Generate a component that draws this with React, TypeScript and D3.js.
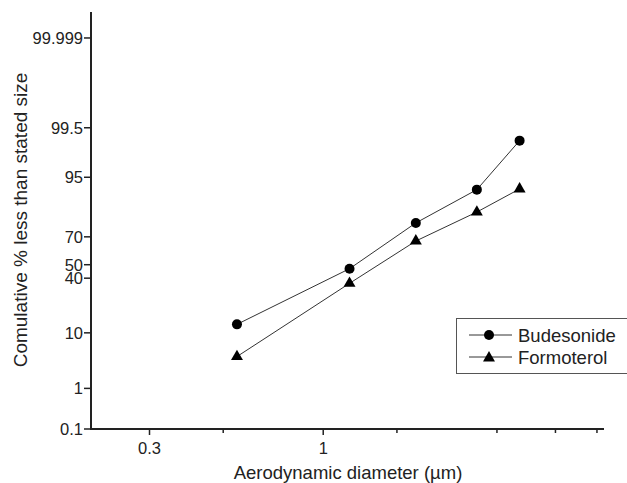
import React from "react";
import * as d3 from "d3";

const diameters = [0.55, 1.2, 1.9, 2.9, 3.9];
const budesonide = [13.1, 47.0, 78.4, 92.1, 99.02];
const formoterol = [4.2, 36.3, 67.2, 83.9, 92.3];
const yTicks = [0.1, 1, 10, 40, 50, 70, 95, 99.5, 99.999];
const xTicks = [0.3, 0.5, 1, 5 / 3, 10 / 3, 5, 20 / 3];
const xLabeled = [0.3, 1];

const W = 627, H = 483;
const left = 91, right = 604, top = 12, bottom = 429;

function inverseNormal(p: number): number {
  // Acklam's algorithm
  const a = [-3.969683028665376e1, 2.209460984245205e2, -2.759285104469687e2, 1.38357751867269e2, -3.066479806614716e1, 2.506628277459239];
  const b = [-5.447609879822406e1, 1.615858368580409e2, -1.556989798598866e2, 6.680131188771972e1, -1.328068155288572e1];
  const c = [-7.784894002430293e-3, -3.223964580411365e-1, -2.400758277161838, -2.549732539343734, 4.374664141464968, 2.938163982698783];
  const d = [7.784695709041462e-3, 3.224671290700398e-1, 2.445134137142996, 3.754408661907416];
  const pl = 0.02425, ph = 1 - pl;
  let q, r;
  if (p < pl) {
    q = Math.sqrt(-2 * Math.log(p));
    return (((((c[0] * q + c[1]) * q + c[2]) * q + c[3]) * q + c[4]) * q + c[5]) / ((((d[0] * q + d[1]) * q + d[2]) * q + d[3]) * q + 1);
  } else if (p <= ph) {
    q = p - 0.5; r = q * q;
    return (((((a[0] * r + a[1]) * r + a[2]) * r + a[3]) * r + a[4]) * r + a[5]) * q / (((((b[0] * r + b[1]) * r + b[2]) * r + b[3]) * r + b[4]) * r + 1);
  } else {
    q = Math.sqrt(-2 * Math.log(1 - p));
    return -(((((c[0] * q + c[1]) * q + c[2]) * q + c[3]) * q + c[4]) * q + c[5]) / ((((d[0] * q + d[1]) * q + d[2]) * q + d[3]) * q + 1);
  }
}
const probit = (pct: number) => inverseNormal(pct / 100);

export default function App() {
  const x = d3.scaleLog().domain([0.2, 7]).range([left, right]);
  const yLin = d3.scaleLinear().domain([probit(0.1), probit(99.9999)]).range([bottom, top]);
  const y = (p: number) => yLin(probit(p));

  const line = d3.line<[number, number]>().x(d => x(d[0])).y(d => y(d[1]));
  const bData = diameters.map((dd, i) => [dd, budesonide[i]] as [number, number]);
  const fData = diameters.map((dd, i) => [dd, formoterol[i]] as [number, number]);
  const tri = d3.symbol().type(d3.symbolTriangle).size(62)() as string;
  const font = "'Liberation Sans', Arial, Helvetica, sans-serif";
  const textColor = "#222";

  return (
    <svg width={W} height={H} style={{ position: "absolute", left: 0, top: 0, background: "#fff" }} fontFamily={font}>
      {/* axes */}
      <line x1={left} y1={top} x2={left} y2={bottom + 1} stroke="#222" strokeWidth={2} />
      <line x1={left - 1} y1={bottom} x2={right} y2={bottom} stroke="#222" strokeWidth={2} />
      {yTicks.map(t => (
        <g key={"y" + t}>
          <line x1={left - 7} x2={left} y1={y(t)} y2={y(t)} stroke="#222" strokeWidth={1.5} />
          <text x={left - 8} y={y(t)} dy="0.36em" textAnchor="end" fontSize={16.5} fill={textColor}>{t}</text>
        </g>
      ))}
      {xTicks.map(t => {
        const major = xLabeled.some(v => Math.abs(v - t) < 1e-9);
        return (
          <g key={"x" + t}>
            <line x1={x(t)} x2={x(t)} y1={bottom} y2={bottom + (major ? 6 : 4)} stroke="#222" strokeWidth={1.5} />
            {major && <text x={x(t)} y={bottom + 25} textAnchor="middle" fontSize={16.5} fill={textColor}>{t}</text>}
          </g>
        );
      })}
      <text x={348} y={479} textAnchor="middle" fontSize={18.5} fill={textColor}>Aerodynamic diameter (µm)</text>
      <text transform={`translate(27,${220}) rotate(-90)`} textAnchor="middle" fontSize={19} fill={textColor}>Comulative % less than stated size</text>

      {/* series */}
      <path d={line(bData) as string} fill="none" stroke="#333" strokeWidth={1} />
      <path d={line(fData) as string} fill="none" stroke="#333" strokeWidth={1} />
      {bData.map((d, i) => <circle key={"b" + i} cx={x(d[0])} cy={y(d[1])} r={5} fill="#000" />)}
      {fData.map((d, i) => <path key={"f" + i} d={tri} transform={`translate(${x(d[0])},${y(d[1])})`} fill="#000" />)}

      {/* legend */}
      <rect x={456.5} y={318.5} width={175} height={55} fill="#fff" stroke="#555" strokeWidth={1} />
      <line x1={469} x2={512} y1={335} y2={335} stroke="#333" />
      <circle cx={489} cy={335} r={5} fill="#000" />
      <text x={518} y={335} dy="0.36em" fontSize={18.5} fill={textColor}>Budesonide</text>
      <line x1={469} x2={512} y1={357} y2={357} stroke="#333" />
      <path d={tri} transform={`translate(489,358)`} fill="#000" />
      <text x={518} y={357} dy="0.36em" fontSize={18.5} fill={textColor}>Formoterol</text>
    </svg>
  );
}
